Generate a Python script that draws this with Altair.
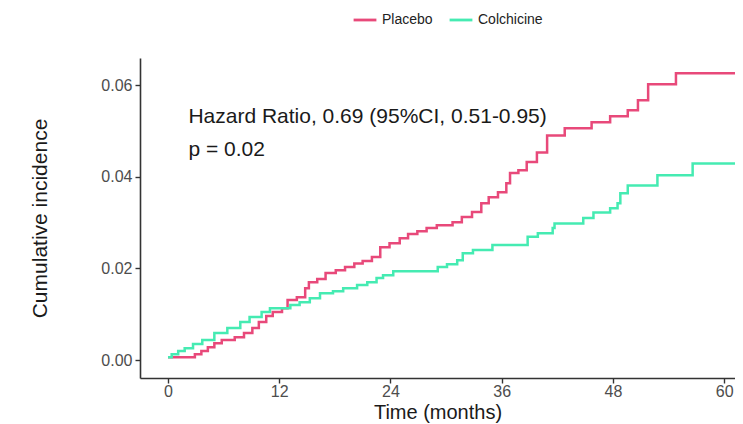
import altair as alt
import pandas as pd

placebo_t = [0, 2.9, 3.6, 4.3, 5.0, 5.8, 7.2, 8.2, 9.1, 9.8, 10.6, 11.3, 12.3, 12.9, 13.9,
             14.8, 15.2, 16.1, 17.0, 18.1, 19.1, 20.1, 21.0, 22.0, 22.9, 23.9, 25.0, 25.9,
             26.9, 27.9, 29.0, 30.7, 31.7, 32.8, 33.8, 34.6, 35.6, 36.5, 36.9, 37.8, 38.7,
             39.8, 40.9, 42.8, 45.7, 47.7, 49.6, 50.7, 51.8, 54.8, 62]
placebo_v = [0.0006, 0.0013, 0.0020, 0.0028, 0.0037, 0.0044, 0.0050, 0.0059, 0.0070, 0.0083,
             0.0096, 0.0105, 0.0113, 0.0131, 0.0137, 0.0157, 0.0170, 0.0177, 0.0190, 0.0196,
             0.0203, 0.0211, 0.0216, 0.0225, 0.0246, 0.0255, 0.0266, 0.0275, 0.0281, 0.0288,
             0.0294, 0.0301, 0.0312, 0.0323, 0.0342, 0.0355, 0.0366, 0.0386, 0.0408, 0.0414,
             0.0432, 0.0453, 0.0490, 0.0506, 0.0519, 0.0532, 0.0545, 0.0567, 0.0602, 0.0626,
             0.0626]

colch_t = [0, 0.4, 1.1, 1.8, 2.7, 3.7, 5.0, 6.4, 7.8, 8.8, 10.1, 11.0, 13.2, 14.2, 15.3,
           16.4, 17.8, 18.9, 20.4, 21.5, 22.5, 23.2, 24.3, 29.1, 30.1, 31.2, 31.8, 32.9,
           35.0, 38.8, 39.9, 41.5, 41.7, 44.8, 45.9, 47.7, 48.5, 48.8, 49.6, 52.8, 56.6, 62]
colch_v = [0.0006, 0.0013, 0.0020, 0.0026, 0.0035, 0.0044, 0.0059, 0.0070, 0.0083, 0.0094,
           0.0105, 0.0113, 0.0120, 0.0126, 0.0135, 0.0146, 0.0150, 0.0157, 0.0164, 0.0170,
           0.0179, 0.0185, 0.0194, 0.0203, 0.0209, 0.0218, 0.0233, 0.0240, 0.0251, 0.0269,
           0.0277, 0.0288, 0.0298, 0.0310, 0.0322, 0.0331, 0.0342, 0.0364, 0.0381, 0.0403,
           0.0429, 0.0429]

groups = ["Placebo", "Colchicine"]
colors = ["#E8497A", "#45EBB2"]
x_ticks = [0, 12, 24, 36, 48, 60]
y_ticks = [0.00, 0.02, 0.04, 0.06]
annot_text = ["Hazard Ratio, 0.69 (95%CI, 0.51-0.95)", "p = 0.02"]
annot_x = [2.2, 2.2]
annot_y = [0.0530, 0.0458]

df = pd.DataFrame({
    "time": placebo_t + colch_t,
    "inc": placebo_v + colch_v,
    "group": ["Placebo"] * len(placebo_t) + ["Colchicine"] * len(colch_t),
})
ann = pd.DataFrame({"x": annot_x, "y": annot_y, "t": annot_text})

xscale = alt.Scale(domain=[-3.02, 61.17], nice=False, zero=False)
yscale = alt.Scale(domain=[-0.0039, 0.0659], nice=False, zero=False)

lines = alt.Chart(df).mark_line(interpolate="step-after", strokeWidth=2.5, clip=True).encode(
    x=alt.X("time:Q", scale=xscale,
            axis=alt.Axis(values=x_ticks, title="Time (months)", format="d",
                          labelPadding=0, titlePadding=3, titleFontSize=20)),
    y=alt.Y("inc:Q", scale=yscale,
            axis=alt.Axis(values=y_ticks, title="Cumulative incidence", format=".2f",
                          titlePadding=50)),
    color=alt.Color("group:N", scale=alt.Scale(domain=groups, range=colors),
                    legend=alt.Legend(title=None, orient="none", direction="horizontal",
                                      legendX=212, legendY=-51, symbolType="stroke",
                                      symbolSize=520, symbolStrokeWidth=2.8,
                                      labelFontSize=14, labelColor="#222222",
                                      labelFont="Liberation Sans", columnPadding=10)),
)

texts = alt.Chart(ann).mark_text(align="left", baseline="middle", fontSize=21,
                                 font="Liberation Sans", color="#1a1a1a").encode(
    x=alt.X("x:Q", scale=xscale), y=alt.Y("y:Q", scale=yscale), text="t:N")

chart = alt.layer(lines, texts).properties(
    width=595, height=320,
    autosize=alt.AutoSizeParams(type="none"),
    padding={"left": 132, "top": 50, "right": 0, "bottom": 46},
).configure_view(stroke=None).configure_axis(
    grid=False, domainColor="#333333", domainWidth=1.6, tickColor="#333333",
    tickWidth=1.4, tickSize=5, labelFontSize=16, labelColor="#4d4d4d",
    labelFont="Liberation Sans", titleFont="Liberation Sans", titleFontSize=21,
    titleFontWeight="normal", titleColor="#1a1a1a", labelPadding=3,
)

chart.save("out.html", embed_options={"renderer": "svg", "actions": False})
